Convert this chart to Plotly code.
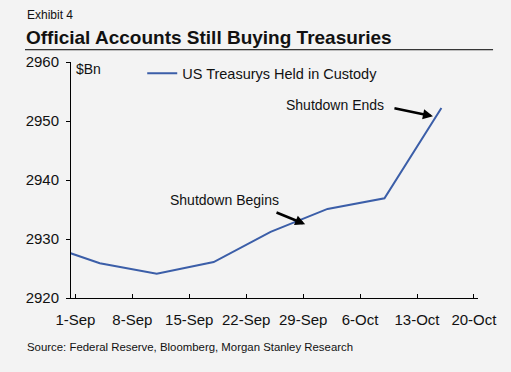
import plotly.graph_objects as go

# ---- data ----
dates = ["2013-08-28", "2013-09-04", "2013-09-11", "2013-09-18", "2013-09-25",
         "2013-10-02", "2013-10-09", "2013-10-16"]
custody = [2929.2, 2925.9, 2924.1, 2926.1, 2931.2, 2935.1, 2936.9, 2952.2]
series_name = "US Treasurys Held in Custody"

tick_dates = ["2013-09-01", "2013-09-08", "2013-09-15", "2013-09-22",
              "2013-09-29", "2013-10-06", "2013-10-13", "2013-10-20"]
tick_labels = ["1-Sep", "8-Sep", "15-Sep", "22-Sep", "29-Sep", "6-Oct", "13-Oct", "20-Oct"]
y_ticks = [2920, 2930, 2940, 2950, 2960]

FONT = "Liberation Sans, Arial, sans-serif"
BG = "#f3f3f3"

fig = go.Figure()
fig.add_trace(go.Scatter(
    x=dates, y=custody, mode="lines", name=series_name,
    line=dict(color="#3b5ea8", width=2), showlegend=True,
))

fig.update_layout(
    width=511, height=372,
    paper_bgcolor=BG, plot_bgcolor=BG,
    margin=dict(l=71, r=33, t=62, b=74),
    font=dict(family=FONT, size=14, color="#111"),
    showlegend=True,
    legend=dict(x=0.175, y=1.02, xanchor="left", yanchor="top",
                bgcolor="rgba(0,0,0,0)", font=dict(size=14.5, family=FONT),
                itemwidth=30),
    xaxis=dict(
        type="date",
        range=["2013-08-31 11:00", "2013-10-20 12:00"],
        tickvals=tick_dates, ticktext=tick_labels,
        ticks="inside", ticklen=4, tickcolor="black",
        showline=True, linecolor="black", linewidth=1,
        showgrid=False, zeroline=False,
        tickfont=dict(size=15, family=FONT, color="#111"),
        ticklabelstandoff=8,
    ),
    yaxis=dict(
        range=[2920, 2960],
        tickvals=y_ticks,
        ticks="outside", ticklen=4, tickcolor="black",
        showline=True, linecolor="black", linewidth=1,
        showgrid=False, zeroline=False,
        tickfont=dict(size=15, family=FONT, color="#111"),
        ticklabelstandoff=4,
    ),
)

annotations = [
    dict(text="Exhibit 4", xref="paper", yref="paper", x=-0.112, y=1.2,
         xanchor="left", yanchor="middle", showarrow=False,
         font=dict(size=12, family=FONT, color="#111")),
    dict(text="<b>Official Accounts Still Buying Treasuries</b>", xref="paper", yref="paper",
         x=-0.116, y=1.105, xanchor="left", yanchor="middle", showarrow=False,
         font=dict(size=19, family=FONT, color="#111")),
    dict(text="Source: Federal Reserve, Bloomberg, Morgan Stanley Research",
         xref="paper", yref="paper", x=-0.112, y=-0.208, xanchor="left", yanchor="middle",
         showarrow=False, font=dict(size=11.4, family=FONT, color="#111")),
    dict(text="$Bn", xref="paper", yref="paper", x=0.008, y=0.97,
         xanchor="left", yanchor="middle", showarrow=False,
         font=dict(size=14, family=FONT, color="#111")),
    # annotation texts
    dict(text="Shutdown Begins", x="2013-09-19 08:00", y=2936.6, xref="x", yref="y",
         showarrow=False, font=dict(size=14, family=FONT, color="#111")),
    dict(text="Shutdown Ends", x="2013-10-02 22:00", y=2952.7, xref="x", yref="y",
         showarrow=False, font=dict(size=14, family=FONT, color="#111")),
    # arrows
    dict(text="", x="2013-09-29 06:00", y=2932.5, ax="2013-09-25 13:00", ay=2934.6,
         xref="x", yref="y", axref="x", ayref="y", showarrow=True,
         arrowhead=2, arrowsize=0.8, arrowwidth=2.5, arrowcolor="black"),
    dict(text="", x="2013-10-14 23:00", y=2950.8, ax="2013-10-10 01:00", ay=2952.2,
         xref="x", yref="y", axref="x", ayref="y", showarrow=True,
         arrowhead=2, arrowsize=0.8, arrowwidth=2.5, arrowcolor="black"),
]
fig.update_layout(annotations=annotations)

# rule under the title
fig.add_shape(type="line", xref="paper", yref="paper", x0=-0.113, x1=1.037, y0=1.052, y1=1.052,
              line=dict(color="black", width=1))

fig.write_html(
    "out.html",
    config={"displayModeBar": False},
    post_script="document.body.style.margin='0';document.body.style.padding='0';"
                "document.body.style.background='" + BG + "';",
)
